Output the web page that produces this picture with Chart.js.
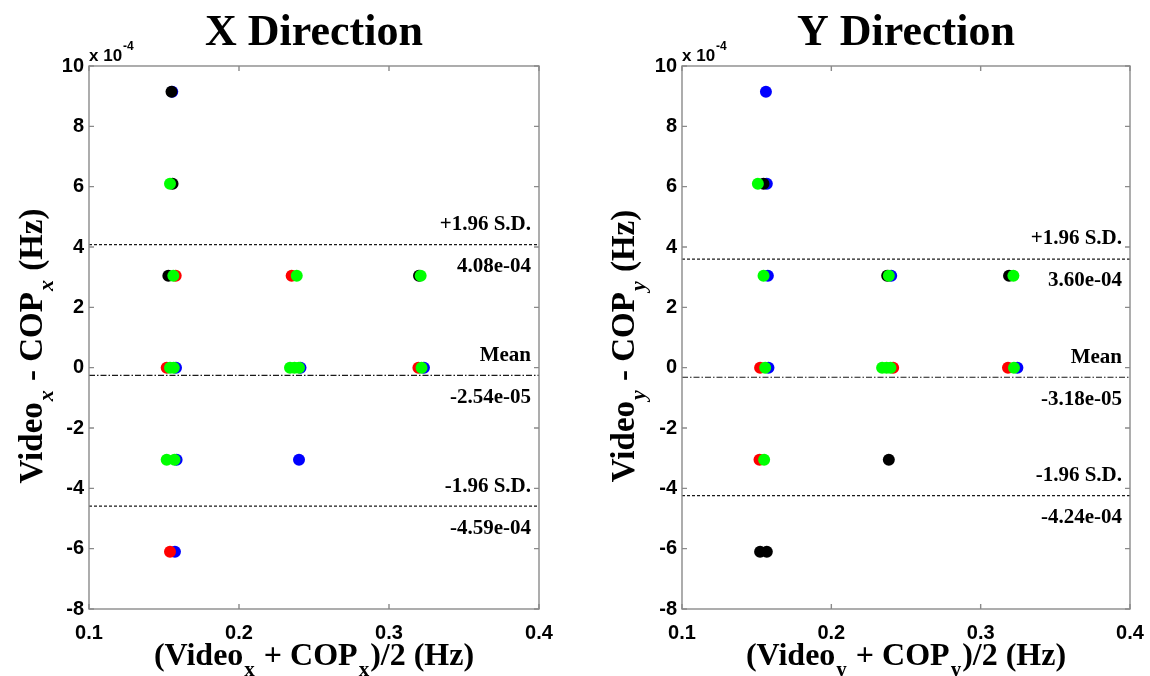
<!DOCTYPE html>
<html>
<head>
<meta charset="utf-8">
<script src="https://cdn.jsdelivr.net/npm/chart.js@4.4.1/dist/chart.umd.min.js"></script>
<style>
  html, body { margin: 0; padding: 0; background: #fff; }
  #wrap { position: relative; width: 1150px; height: 676px; }
  canvas { position: absolute; top: 0; }
</style>
</head>
<body>
<div id="wrap">
  <canvas id="chartX" width="575" height="676" style="left:0"></canvas>
  <canvas id="chartY" width="575" height="676" style="left:575px"></canvas>
</div>
<script>
// Axis ticks (x: mean frequency in Hz, y: difference in Hz)
const xTickValues = [0.1, 0.2, 0.3, 0.4];
const yTickValues = [-8e-4, -6e-4, -4e-4, -2e-4, 0, 2e-4, 4e-4, 6e-4, 8e-4, 10e-4];

// Limits of agreement: +1.96 S.D., mean, -1.96 S.D.
const limitNames = ['+1.96 S.D.', 'Mean', '-1.96 S.D.'];
const xLimits = [4.08e-4, -2.54e-5, -4.59e-4];
const yLimits = [3.60e-4, -3.18e-5, -4.24e-4];

// X direction: [ (Video + COP)/2 , Video - COP ]
const xBlack = [[0.1550, 9.15e-4], [0.1557, 6.10e-4], [0.1529, 3.05e-4], [0.3200, 3.05e-4]];
const xRed   = [[0.1578, 3.05e-4], [0.2351, 3.05e-4], [0.1518, 0], [0.3196, 0], [0.1540, -6.10e-4]];
const xBlue  = [[0.1555, 9.15e-4], [0.1580, 0], [0.2410, 0], [0.3233, 0], [0.1584, -3.05e-4], [0.2400, -3.05e-4], [0.1573, -6.10e-4]];
const xGreen = [[0.1540, 6.10e-4], [0.1562, 3.05e-4], [0.2385, 3.05e-4], [0.3211, 3.05e-4],
                [0.1540, 0], [0.1565, 0], [0.2340, 0], [0.2370, 0], [0.2400, 0], [0.3217, 0],
                [0.1518, -3.05e-4], [0.1570, -3.05e-4]];

// Y direction
const yBlack = [[0.1546, 6.10e-4], [0.2374, 3.05e-4], [0.3190, 3.05e-4], [0.2385, -3.05e-4], [0.1523, -6.10e-4], [0.1568, -6.10e-4]];
const yRed   = [[0.1523, 0], [0.2414, 0], [0.3183, 0], [0.1519, -3.05e-4]];
const yBlue  = [[0.1562, 9.15e-4], [0.1568, 6.10e-4], [0.1575, 3.05e-4], [0.2401, 3.05e-4], [0.1579, 0], [0.3246, 0]];
const yGreen = [[0.1508, 6.10e-4], [0.1546, 3.05e-4], [0.2385, 3.05e-4], [0.3219, 3.05e-4],
                [0.1557, 0], [0.2340, 0], [0.2370, 0], [0.2396, 0], [0.3223, 0], [0.1550, -3.05e-4]];

const SERIF = '"Liberation Serif", "Times New Roman", serif';
const SANS = '"Liberation Sans", Arial, sans-serif';

function fmtExp(v) {
  // 4.08e-4 -> "4.08e-04"
  const s = v.toExponential(2);
  return s.replace(/e([+-])(\d)$/, 'e$10$2');
}

function toPoints(arr) { return arr.map(p => ({ x: p[0], y: p[1] })); }

function scatterSet(arr, color, order) {
  return {
    type: 'scatter', data: toPoints(arr), order,
    backgroundColor: color, borderColor: color, borderWidth: 0,
    pointRadius: 6, pointHoverRadius: 6
  };
}

function limitSet(v, mean) {
  return {
    type: 'line', order: 10,
    data: [{ x: xTickValues[0], y: v }, { x: xTickValues[xTickValues.length - 1], y: v }],
    borderColor: '#1a1a1a', borderWidth: 1.2,
    borderDash: mean ? [6, 2, 1.5, 2] : [3, 2],
    pointRadius: 0, fill: false
  };
}

// Text made of normal runs and subscript runs, drawn from a baseline at y = 0
function runFont(size, sub, italicSub) {
  return sub
    ? `${italicSub ? 'italic ' : ''}bold ${Math.round(size * 0.66)}px ${SERIF}`
    : `bold ${size}px ${SERIF}`;
}
function richWidth(ctx, parts, size, italicSub) {
  let w = 0;
  for (const [t, sub] of parts) {
    ctx.font = runFont(size, sub, italicSub);
    w += ctx.measureText(t).width + (sub ? 2 : 0);
  }
  return w;
}
function drawRich(ctx, parts, size, x0, italicSub) {
  let x = x0;
  for (const [t, sub] of parts) {
    ctx.font = runFont(size, sub, italicSub);
    ctx.fillText(t, x + (sub ? 1 : 0), sub ? size * 0.33 : 0);
    x += ctx.measureText(t).width + (sub ? 2 : 0);
  }
}

const panelPlugin = {
  id: 'panel',
  afterDraw(chart, args, o) {
    const { ctx, chartArea: a, scales: { x, y } } = chart;
    ctx.save();
    ctx.fillStyle = '#000';

    // Title
    ctx.font = `bold ${o.titleSize}px ${SERIF}`;
    ctx.textAlign = 'center';
    ctx.textBaseline = 'alphabetic';
    ctx.fillText(o.title, (a.left + a.right) / 2, o.titleBase);

    // Axes box
    ctx.strokeStyle = '#8a8a8a';
    ctx.lineWidth = 1.4;
    ctx.strokeRect(a.left, a.top, a.right - a.left, a.bottom - a.top);

    // Inward tick marks on all four sides
    const tk = 5;
    ctx.beginPath();
    for (const v of xTickValues) {
      const px = x.getPixelForValue(v);
      ctx.moveTo(px, a.bottom); ctx.lineTo(px, a.bottom - tk);
      ctx.moveTo(px, a.top); ctx.lineTo(px, a.top + tk);
    }
    for (const v of yTickValues) {
      const py = y.getPixelForValue(v);
      ctx.moveTo(a.left, py); ctx.lineTo(a.left + tk, py);
      ctx.moveTo(a.right, py); ctx.lineTo(a.right - tk, py);
    }
    ctx.stroke();

    // Exponent of the y axis
    ctx.textAlign = 'left';
    ctx.font = `bold 17px ${SANS}`;
    ctx.fillText('x 10', a.left, a.top - 5);
    const w10 = ctx.measureText('x 10').width;
    ctx.font = `bold 12px ${SANS}`;
    ctx.fillText('-4', a.left + w10 + 1, a.top - 16);

    // Limits of agreement annotations
    ctx.textAlign = 'right';
    ctx.textBaseline = 'middle';
    ctx.font = `bold ${o.noteSize}px ${SERIF}`;
    o.limits.forEach((v, i) => {
      const py = y.getPixelForValue(v);
      ctx.fillText(limitNames[i], a.right - 8, py - 20);
      ctx.fillText(fmtExp(v), a.right - 8, py + 22);
    });

    // X axis label
    const s = o.sub;
    const xParts = [['(Video', 0], [s, 1], [' + COP', 0], [s, 1], [')/2 (Hz)', 0]];
    ctx.textAlign = 'left';
    ctx.textBaseline = 'alphabetic';
    const xw = richWidth(ctx, xParts, o.xLabelSize, false);
    ctx.save();
    ctx.translate(0, o.xLabelBase);
    drawRich(ctx, xParts, o.xLabelSize, (a.left + a.right) / 2 - xw / 2, false);
    ctx.restore();

    // Y axis label (rotated)
    const yParts = [['Video', 0], [s, 1], [' - COP', 0], [s, 1], [' (Hz)', 0]];
    const yw = richWidth(ctx, yParts, o.yLabelSize, true);
    ctx.save();
    ctx.translate(o.yLabelBase, o.yLabelCenter);
    ctx.rotate(-Math.PI / 2);
    drawRich(ctx, yParts, o.yLabelSize, -yw / 2, true);
    ctx.restore();

    ctx.restore();
  }
};

function makeChart(id, sets, limits, title, sub, yAxisWidth, rightPad, yLabelBase) {
  return new Chart(document.getElementById(id), {
    data: {
      datasets: [
        scatterSet(sets[0], '#000000', 1),
        scatterSet(sets[1], '#ff0000', 2),
        scatterSet(sets[2], '#0000ff', 3),
        scatterSet(sets[3], '#00ff00', 0),
        limitSet(limits[0], false),
        limitSet(limits[1], true),
        limitSet(limits[2], false)
      ]
    },
    options: {
      responsive: false,
      animation: false,
      events: [],
      devicePixelRatio: 1,
      layout: { padding: { top: 66, right: rightPad, left: 0, bottom: 0 } },
      plugins: {
        legend: { display: false },
        tooltip: { enabled: false },
        panel: {
          title, sub, limits,
          titleSize: 44, titleBase: 45,
          noteSize: 21, xLabelSize: 32, yLabelSize: 33,
          xLabelBase: 665, yLabelBase: yLabelBase, yLabelCenter: 346
        }
      },
      scales: {
        x: {
          type: 'linear', min: 0.1, max: 0.4,
          grid: { display: false, drawTicks: false },
          border: { display: false },
          afterBuildTicks: sc => { sc.ticks = xTickValues.map(v => ({ value: v })); },
          afterFit: sc => { sc.height = 67; sc.paddingLeft = 0; sc.paddingRight = 0; },
          ticks: {
            color: '#000', padding: 12, maxRotation: 0, autoSkip: false,
            font: { family: SANS, size: 20, weight: 'bold' },
            callback: v => String(Math.round(v * 10) / 10)
          }
        },
        y: {
          type: 'linear', min: -8e-4, max: 10e-4,
          grid: { display: false, drawTicks: false },
          border: { display: false },
          afterBuildTicks: sc => { sc.ticks = yTickValues.map(v => ({ value: v })); },
          afterFit: sc => { sc.width = yAxisWidth; sc.paddingTop = 0; sc.paddingBottom = 0; },
          ticks: {
            color: '#000', padding: 5, autoSkip: false,
            font: { family: SANS, size: 20, weight: 'bold' },
            callback: v => String(Math.round(v * 1e4))
          }
        }
      }
    },
    plugins: [panelPlugin]
  });
}

makeChart('chartX', [xBlack, xRed, xBlue, xGreen], xLimits, 'X Direction', 'x', 89, 36, 42);
makeChart('chartY', [yBlack, yRed, yBlue, yGreen], yLimits, 'Y Direction', 'y', 107, 20, 59);
</script>
</body>
</html>
